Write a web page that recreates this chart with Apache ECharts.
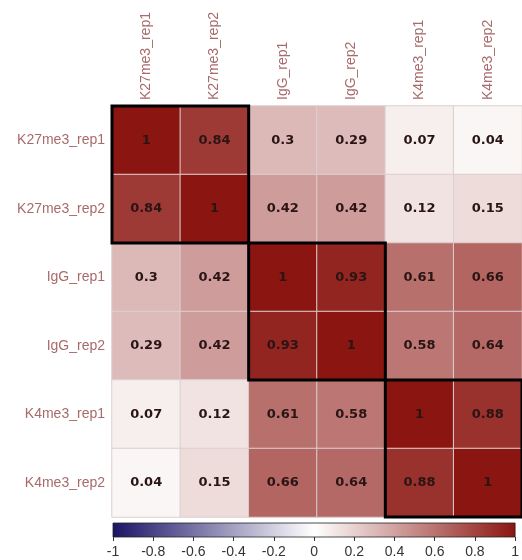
<!DOCTYPE html>
<html><head><meta charset="utf-8">
<script src="https://cdn.jsdelivr.net/npm/echarts@6/dist/echarts.min.js"></script>
<style>html,body{margin:0;padding:0;background:#fff}#c{width:522px;height:560px}</style>
</head><body><div id="c"></div>
<script>
const samples = ['K27me3_rep1','K27me3_rep2','IgG_rep1','IgG_rep2','K4me3_rep1','K4me3_rep2'];
const corr = [
  [1, 0.84, 0.3, 0.29, 0.07, 0.04],
  [0.84, 1, 0.42, 0.42, 0.12, 0.15],
  [0.3, 0.42, 1, 0.93, 0.61, 0.66],
  [0.29, 0.42, 0.93, 1, 0.58, 0.64],
  [0.07, 0.12, 0.61, 0.58, 1, 0.88],
  [0.04, 0.15, 0.66, 0.64, 0.88, 1]
];
const clusters = [[0,1],[2,3],[4,5]];
const scaleMin = -1, scaleMax = 1, scaleStep = 0.2;
const rampColors = ['#1b1466', '#ffffff', '#8b1510'];

const cells = [];
corr.forEach((row, i) => row.forEach((v, j) => cells.push([j, i, v])));

const chart = echarts.init(document.getElementById('c'), null, {renderer:'canvas'});
const labelFont = 'Liberation Sans, Arial, sans-serif';
chart.setOption({
  animation: false,
  backgroundColor: '#ffffff',
  grid: [
    {left: 112, top: 106, width: 411, height: 411},
    {left: 113, top: 523, width: 407, height: 14}
  ],
  xAxis: [
    {type:'category', data: samples, gridIndex:0, position:'top',
     axisLine:{show:false}, axisTick:{show:false}, splitLine:{show:false},
     axisLabel:{rotate:-90, margin:6, fontSize:14, color:'#a86a6a', fontFamily:labelFont}},
    {type:'value', gridIndex:1, min:scaleMin, max:scaleMax, interval:scaleStep,
     axisLine:{show:false}, splitLine:{show:false},
     axisTick:{show:true, length:4, lineStyle:{color:'#333', width:1}},
     axisLabel:{margin:8, fontSize:14, color:'#333', fontFamily:labelFont,
       formatter: v => String(Math.round(v*10)/10)}}
  ],
  yAxis: [
    {type:'category', data: samples, gridIndex:0, inverse:true,
     axisLine:{show:false}, axisTick:{show:false}, splitLine:{show:false},
     axisLabel:{margin:7, fontSize:14, color:'#a86a6a', fontFamily:labelFont}},
    {type:'value', gridIndex:1, min:0, max:1, show:false}
  ],
  visualMap: {show:false, min:scaleMin, max:scaleMax, seriesIndex:0, dimension:2,
    inRange:{color: rampColors}},
  series: [
    {type:'heatmap', xAxisIndex:0, yAxisIndex:0, data: cells,
     itemStyle:{borderColor:'#dccfcf', borderWidth:1},
     label:{show:true, formatter: p => String(p.value[2]), fontSize:13, fontWeight:'bold',
       color:'#2a1414', fontFamily:'DejaVu Sans, sans-serif'},
     emphasis:{disabled:true}},
    {type:'custom', xAxisIndex:0, yAxisIndex:0, data: clusters, z:10,
     renderItem: (params, api) => {
       const a = api.value(0), b = api.value(1);
       const sz = api.size([1,1]);
       const p0 = api.coord([a, a]);
       const p1 = api.coord([b, b]);
       const x0 = p0[0] - sz[0]/2, y0 = p0[1] - sz[1]/2;
       const x1 = p1[0] + sz[0]/2, y1 = p1[1] + sz[1]/2;
       return {type:'rect', shape:{x:x0, y:y0, width:x1-x0, height:y1-y0},
         style:{fill:'none', stroke:'#000', lineWidth:3}};
     }},
    {type:'custom', xAxisIndex:1, yAxisIndex:1, data:[[scaleMin, scaleMax]],
     renderItem: (params, api) => {
       const p0 = api.coord([api.value(0), 1]);
       const p1 = api.coord([api.value(1), 0]);
       return {type:'rect', shape:{x:p0[0], y:p0[1], width:p1[0]-p0[0], height:p1[1]-p0[1]},
         style:{fill:{type:'linear', x:0, y:0, x2:1, y2:0,
           colorStops:[{offset:0,color:rampColors[0]},{offset:0.5,color:rampColors[1]},{offset:1,color:rampColors[2]}]},
           stroke:'#222', lineWidth:0.8}};
     }}
  ]
});
</script></body></html>
